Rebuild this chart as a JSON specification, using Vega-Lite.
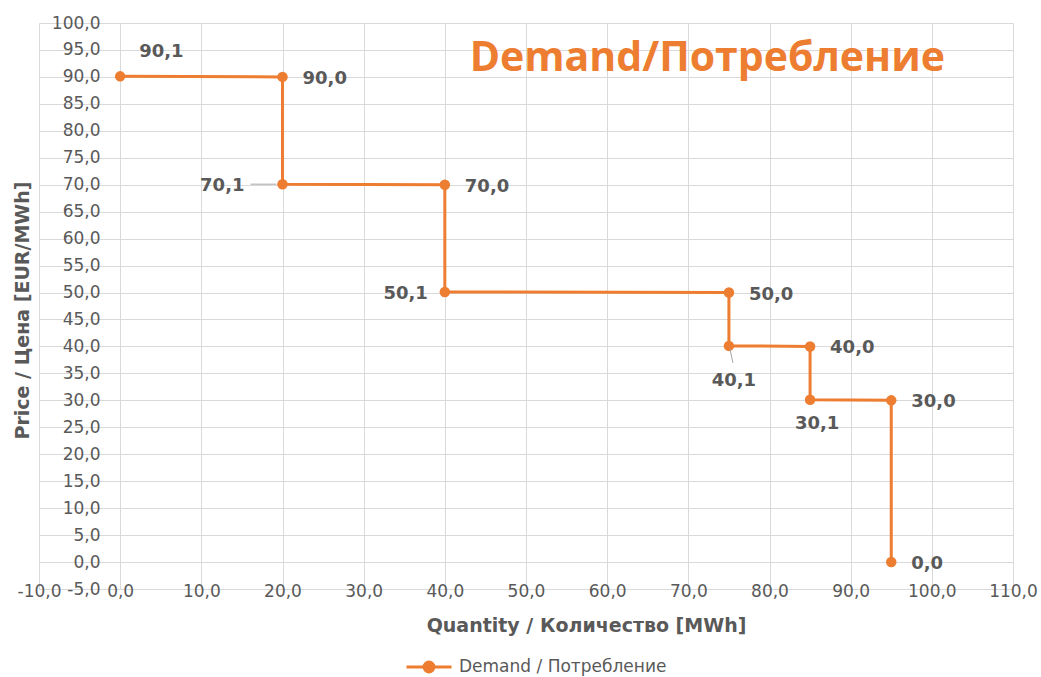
{
  "$schema": "https://vega.github.io/schema/vega-lite/v6.json",
  "width": 974,
  "height": 566,
  "autosize": {"type": "none"},
  "padding": {"left": 39, "top": 23, "right": 28, "bottom": 88},
  "background": "white",
  "config": {
    "locale": {"number": {"decimal": ",", "thousands": " ", "grouping": [3], "currency": ["", " €"], "minus": "-"}},
    "view": {"stroke": null},
    "font": "DejaVu Sans"
  },
  "title": {
    "text": "Demand/Потребление",
    "orient": "top",
    "anchor": "end",
    "frame": "group",
    "color": "#ED7D31",
    "font": "Open Sans",
    "fontSize": 41,
    "fontWeight": "bold",
    "dx": -68,
    "dy": 70
  },
  "data": {
    "values": [
      {"i": 0, "q": 0, "p": 90.1},
      {"i": 1, "q": 20, "p": 90.0},
      {"i": 2, "q": 20, "p": 70.1},
      {"i": 3, "q": 40, "p": 70.0},
      {"i": 4, "q": 40, "p": 50.1},
      {"i": 5, "q": 75, "p": 50.0},
      {"i": 6, "q": 75, "p": 40.1},
      {"i": 7, "q": 85, "p": 40.0},
      {"i": 8, "q": 85, "p": 30.1},
      {"i": 9, "q": 95, "p": 30.0},
      {"i": 10, "q": 95, "p": 0.0}
    ]
  },
  "encoding": {
    "x": {
      "field": "q",
      "type": "quantitative",
      "scale": {"domain": [-10, 110], "nice": false, "zero": false},
      "axis": {
        "title": "Quantity / Количество [MWh]",
        "values": [-10, 0, 10, 20, 30, 40, 50, 60, 70, 80, 90, 100, 110],
        "format": ".1f",
        "domain": false,
        "ticks": false,
        "grid": true,
        "gridColor": "#d9d9d9",
        "gridWidth": 1,
        "labelFontSize": 17,
        "labelColor": "#595959",
        "labelBaseline": "middle",
        "labelPadding": 2,
        "labelFlush": false,
        "labelOverlap": false,
        "labelBound": false,
        "titleFontSize": 19,
        "titleFontWeight": "bold",
        "titleColor": "#595959",
        "titleX": 547,
        "titleY": 36,
        "titleAlign": "center",
        "titleBaseline": "middle"
      }
    },
    "y": {
      "field": "p",
      "type": "quantitative",
      "scale": {"domain": [-5, 100], "nice": false, "zero": false},
      "axis": {
        "title": "Price / Цена [EUR/MWh]",
        "values": [-5, 0, 5, 10, 15, 20, 25, 30, 35, 40, 45, 50, 55, 60, 65, 70, 75, 80, 85, 90, 95, 100],
        "format": ".1f",
        "domain": false,
        "ticks": false,
        "grid": true,
        "gridColor": "#d9d9d9",
        "gridWidth": 1,
        "labelFontSize": 17,
        "labelColor": "#595959",
        "labelAlign": "right",
        "labelBaseline": "middle",
        "labelPadding": -61,
        "labelOverlap": false,
        "labelFlush": false,
        "labelBound": false,
        "titleFontSize": 19,
        "titleFontWeight": "bold",
        "titleColor": "#595959",
        "titleAngle": -90,
        "titleX": -17,
        "titleY": 287,
        "titleAlign": "center",
        "titleBaseline": "middle"
      }
    }
  },
  "layer": [
    {
      "mark": {"type": "line", "strokeWidth": 3},
      "encoding": {
        "order": {"field": "i", "type": "quantitative"},
        "color": {
          "datum": "Demand / Потребление",
          "scale": {"range": ["#ED7D31"]},
          "legend": {
            "title": null,
            "orient": "none",
            "legendX": 366,
            "legendY": 620,
            "padding": 0,
            "symbolType": "M-1,0L1,0M-0.22,0A0.22,0.22,0,1,1,0.22,0A0.22,0.22,0,1,1,-0.22,0Z",
            "symbolSize": 2025,
            "labelFontSize": 17,
            "labelColor": "#595959",
            "labelOffset": 6,
            "labelLimit": 0,
            "encode": {
              "symbols": {
                "update": {
                  "stroke": {"value": "#ED7D31"},
                  "fill": {"value": "#ED7D31"},
                  "strokeWidth": {"value": 3},
                  "opacity": {"value": 1}
                }
              }
            }
          }
        }
      }
    },
    {
      "mark": {"type": "point", "filled": true, "size": 110, "color": "#ED7D31", "opacity": 1}
    },
    {
      "transform": [{"filter": "datum.i == 2"}],
      "mark": {"type": "rule", "color": "#a6a6a6", "strokeWidth": 1, "xOffset": -32, "x2Offset": -6},
      "encoding": {"x2": {"field": "q"}}
    },
    {
      "transform": [{"filter": "datum.i == 6"}],
      "mark": {"type": "rule", "color": "#a6a6a6", "strokeWidth": 1, "xOffset": 1, "x2Offset": 4, "yOffset": 3, "y2Offset": 17},
      "encoding": {"x2": {"field": "q"}, "y2": {"field": "p"}}
    },
    {
      "transform": [{"filter": "indexof([1,3,5,7,9,10], datum.i) >= 0"}],
      "mark": {"type": "text", "fontWeight": "bold", "fontSize": 18, "color": "#595959", "align": "left", "baseline": "middle", "dx": 20, "dy": 2},
      "encoding": {"text": {"field": "p", "type": "quantitative", "format": ".1f"}}
    },
    {
      "transform": [{"filter": "datum.i == 0"}],
      "mark": {"type": "text", "fontWeight": "bold", "fontSize": 18, "color": "#595959", "align": "left", "baseline": "middle", "dx": 19, "dy": -24},
      "encoding": {"text": {"field": "p", "type": "quantitative", "format": ".1f"}}
    },
    {
      "transform": [{"filter": "datum.i == 2"}],
      "mark": {"type": "text", "fontWeight": "bold", "fontSize": 18, "color": "#595959", "align": "right", "baseline": "middle", "dx": -38, "dy": 2},
      "encoding": {"text": {"field": "p", "type": "quantitative", "format": ".1f"}}
    },
    {
      "transform": [{"filter": "datum.i == 4"}],
      "mark": {"type": "text", "fontWeight": "bold", "fontSize": 18, "color": "#595959", "align": "right", "baseline": "middle", "dx": -17, "dy": 2},
      "encoding": {"text": {"field": "p", "type": "quantitative", "format": ".1f"}}
    },
    {
      "transform": [{"filter": "datum.i == 6"}],
      "mark": {"type": "text", "fontWeight": "bold", "fontSize": 18, "color": "#595959", "align": "center", "baseline": "middle", "dx": 5, "dy": 35},
      "encoding": {"text": {"field": "p", "type": "quantitative", "format": ".1f"}}
    },
    {
      "transform": [{"filter": "datum.i == 8"}],
      "mark": {"type": "text", "fontWeight": "bold", "fontSize": 18, "color": "#595959", "align": "center", "baseline": "middle", "dx": 7, "dy": 24},
      "encoding": {"text": {"field": "p", "type": "quantitative", "format": ".1f"}}
    }
  ]
}
